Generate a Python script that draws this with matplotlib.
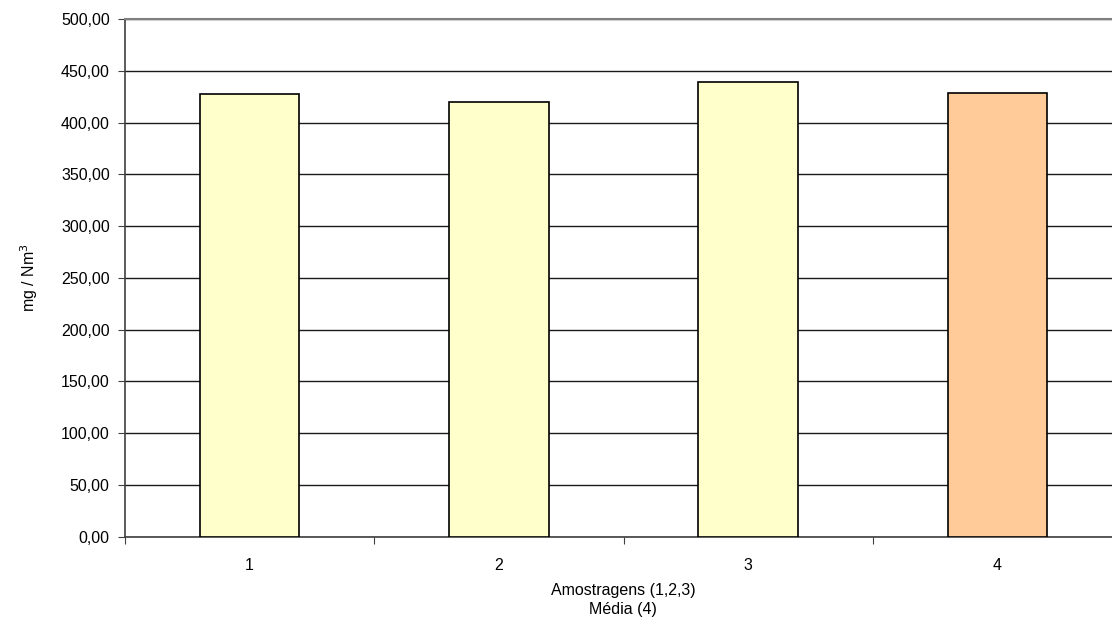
import numpy as np
import matplotlib
matplotlib.use("Agg")
import matplotlib.pyplot as plt
from matplotlib.ticker import FuncFormatter

# Dados
categorias = ["1", "2", "3", "4"]
valores = [428.0, 420.1, 438.9, 429.0]
cores = ["#FFFFCC", "#FFFFCC", "#FFFFCC", "#FFCC99"]

plt.rcParams["font.family"] = ["Liberation Sans", "DejaVu Sans"]

fig = plt.figure(figsize=(11.12, 6.25), dpi=100)
# o eixo continua para além da margem direita, como no original
ax = fig.add_axes([125 / 1112, 88.3 / 625, 997 / 1112, 517.7 / 625])

x = np.arange(len(categorias))
ax.bar(x, valores, width=0.4, color=cores, edgecolor="black", linewidth=1.2, zorder=3)

ax.set_xlim(-0.5, len(categorias) - 0.5)
ax.set_ylim(0, 500)
ax.set_yticks(np.arange(0, 501, 50))
ax.yaxis.set_major_formatter(FuncFormatter(lambda v, p: f"{v:.2f}".replace(".", ",")))
ax.grid(axis="y", color="#1a1a1a", linewidth=1.0, zorder=0)

ax.set_xticks(np.arange(-0.5, len(categorias), 1.0))
ax.set_xticklabels([])
ax.set_xticks(x, minor=True)
ax.set_xticklabels(categorias, minor=True)
ax.tick_params(axis="x", which="minor", length=0, pad=15, labelsize=11.5)
ax.tick_params(axis="x", which="major", length=5, color="#404040", direction="out")
ax.tick_params(axis="y", length=5, color="#404040", labelsize=11.5, pad=6)

for lado in ["left", "bottom"]:
    ax.spines[lado].set_color("#404040")
    ax.spines[lado].set_linewidth(1.2)
ax.spines["top"].set_color("#808080")
ax.spines["top"].set_linewidth(1.5)
ax.spines["right"].set_visible(False)

ax.set_ylabel("mg / Nm$^3$", fontsize=11.5, labelpad=15)
fig.text(623 / 1112, 1 - 600 / 625, "Amostragens (1,2,3)\nMédia (4)", ha="center",
         va="center", fontsize=11.5, linespacing=1.3)

fig.savefig("out.png", dpi=100)
